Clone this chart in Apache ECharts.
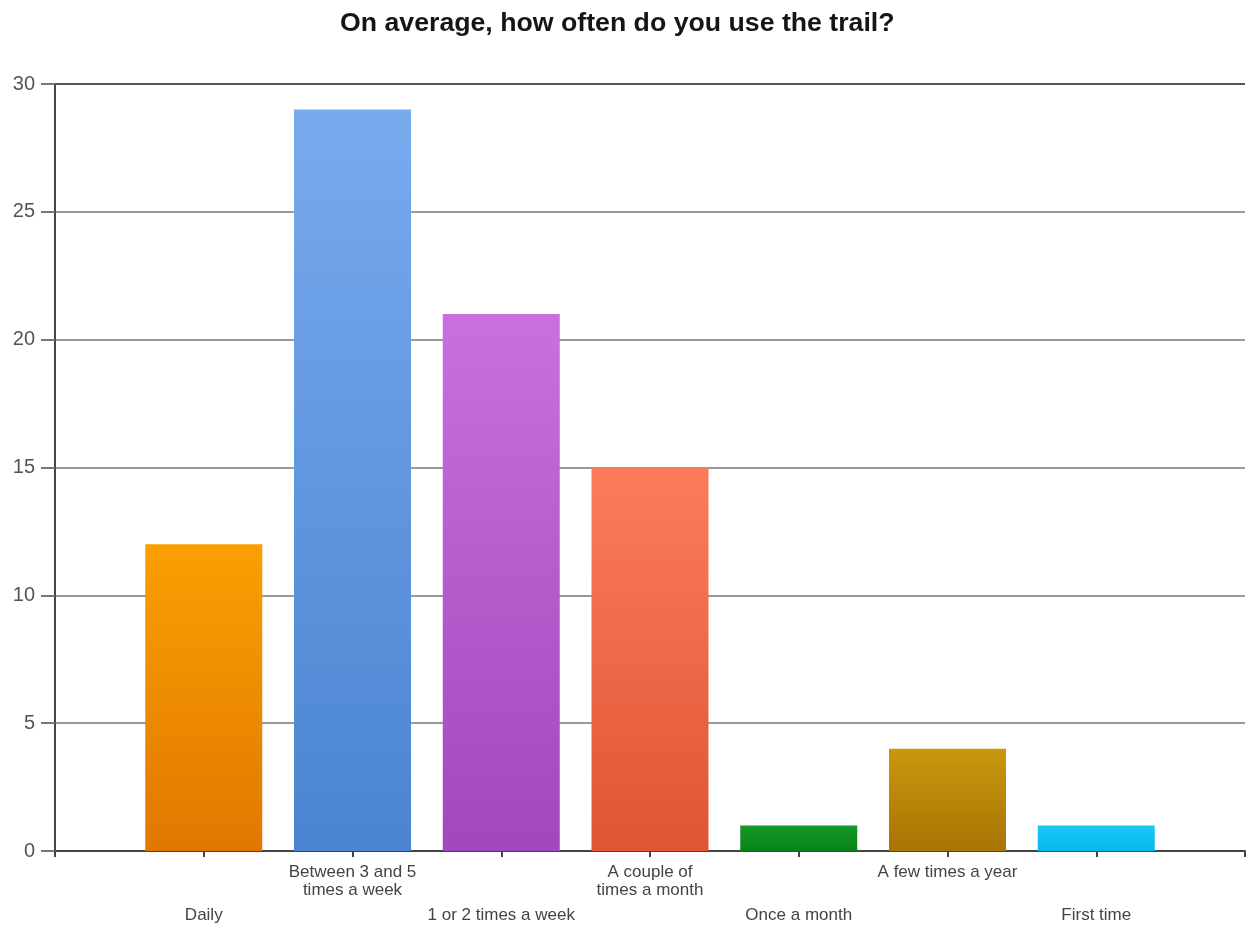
<!DOCTYPE html>
<html><head><meta charset="utf-8">
<script src="https://cdn.jsdelivr.net/npm/echarts@6/dist/echarts.min.js"></script>
<style>html,body{margin:0;padding:0;background:#fff}#c{width:1249px;height:930px}</style>
</head><body><div id="c"></div>
<script>
const titleText = 'On average, how often do you use the trail?';
const categories = ['Daily', 'Between 3 and 5\ntimes a week', '1 or 2 times a week', 'A couple of\ntimes a month', 'Once a month', 'A few times a year', 'First time'];
const values = [12, 29, 21, 15, 1, 4, 1];
const topColors = ['#fb9f02', '#78aaee', '#c970de', '#fb7c5c', '#14992a', '#c8980e', '#1cc8f6'];
const bottomColors = ['#e07800', '#4a84d0', '#a148bc', '#df5533', '#0a8217', '#a87404', '#05b8ee'];
const yTicks = [0, 5, 10, 15, 20, 25, 30];

const cats = [''].concat(categories, ['']);
const data = [null].concat(values.map((v, i) => ({
  value: v,
  itemStyle: { color: new echarts.graphic.LinearGradient(0, 0, 0, 1, [
    { offset: 0, color: topColors[i] }, { offset: 1, color: bottomColors[i] }]) }
})), [null]);

const chart = echarts.init(document.getElementById('c'), null, { renderer: 'canvas' });
chart.setOption({
  animation: false,
  backgroundColor: '#fff',
  title: { text: titleText, left: 335, top: 5,
    textStyle: { fontFamily: 'Liberation Sans, Arial, sans-serif', fontSize: 26.7, fontWeight: 'bold', color: '#151515' } },
  grid: { left: 55, right: 4, top: 84, bottom: 79, containLabel: false, outerBoundsMode: 'none' },
  xAxis: {
    type: 'category', data: cats, boundaryGap: false,
    axisLine: { lineStyle: { color: '#444', width: 2 } },
    axisTick: { show: true, length: 6, interval: 0, lineStyle: { color: '#444', width: 2 } },
    splitLine: { show: false },
    axisLabel: {
      interval: 0, margin: 12, color: '#444', fontFamily: 'Liberation Sans, Arial, sans-serif', fontSize: 17, lineHeight: 18,
      formatter: function (v, idx) {
        if (!v) return '';
        return (idx % 2 === 1) ? '{lo|' + v + '}' : v;
      },
      rich: { lo: { fontSize: 17, lineHeight: 104, color: '#444' } }
    }
  },
  yAxis: {
    type: 'value', min: 0, max: 30, interval: 5,
    axisLine: { show: true, lineStyle: { color: '#444', width: 2 } },
    axisTick: { show: true, length: 14, lineStyle: { color: '#777', width: 2 } },
    axisLabel: { margin: 20, color: '#555', fontFamily: 'Liberation Sans, Arial, sans-serif', fontSize: 20,
      formatter: function (v) { return yTicks.indexOf(v) >= 0 ? String(v) : ''; } },
    splitLine: { show: true, lineStyle: { width: 2, color: ['#888', '#999', '#999', '#999', '#999', '#999', '#555'] } }
  },
  series: [{
    type: 'bar', data: data, barWidth: 117
  }]
});
</script></body></html>
